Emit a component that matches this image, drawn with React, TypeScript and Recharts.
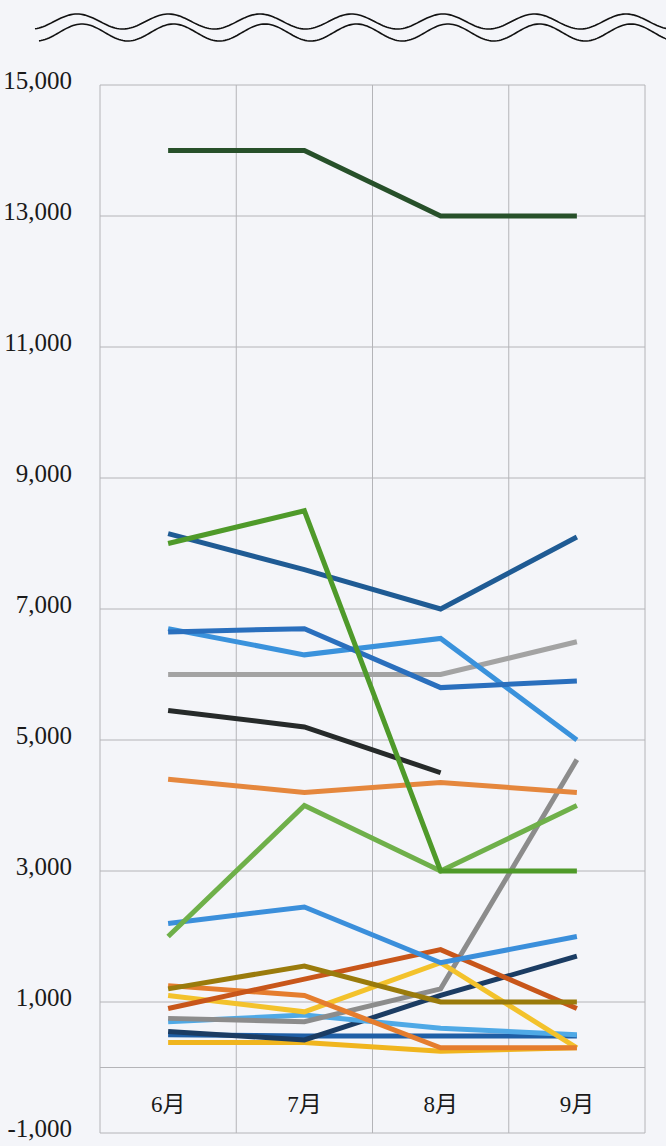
import React from 'react'
import { LineChart, Line, XAxis, YAxis, CartesianGrid, ReferenceLine } from 'recharts'

const months = ['6月', '7月', '8月', '9月']
const yTicks = [-1000, 1000, 3000, 5000, 7000, 9000, 11000, 13000, 15000]

const s01 = [14000, 14000, 13000, 13000]
const s02 = [8000, 8500, 3000, 3000]
const s03 = [8150, 7600, 7000, 8100]
const s04 = [6650, 6700, 5800, 5900]
const s05 = [6700, 6300, 6550, 5000]
const s06 = [6000, 6000, 6000, 6500]
const s07 = [5450, 5200, 4500, null]
const s08 = [4400, 4200, 4350, 4200]
const s09 = [2000, 4000, 3000, 4000]
const s10 = [2200, 2450, 1600, 2000]
const s11 = [1200, 1550, 1000, 1000]
const s12 = [900, 1350, 1800, 900]
const s13 = [1250, 1100, 300, 300]
const s14 = [1100, 850, 1600, 300]
const s15 = [750, 700, 1200, 4700]
const s16 = [700, 800, 600, 500]
const s17 = [550, 420, 1100, 1700]
const s18 = [500, 480, 480, 480]
const s19 = [380, 380, 250, 300]

const series = [
  { key: 's19', values: s19, color: '#f0b51e' },
  { key: 's18', values: s18, color: '#1f5fa6' },
  { key: 's17', values: s17, color: '#1b3c63' },
  { key: 's16', values: s16, color: '#4fa9e6' },
  { key: 's15', values: s15, color: '#8c8c8c' },
  { key: 's14', values: s14, color: '#f3c22c' },
  { key: 's13', values: s13, color: '#e57d2e' },
  { key: 's12', values: s12, color: '#c8561a' },
  { key: 's11', values: s11, color: '#9a7b0c' },
  { key: 's10', values: s10, color: '#3b8fdb' },
  { key: 's09', values: s09, color: '#6fb04a' },
  { key: 's08', values: s08, color: '#e5873d' },
  { key: 's07', values: s07, color: '#262a2a' },
  { key: 's06', values: s06, color: '#a3a3a3' },
  { key: 's05', values: s05, color: '#3a92dc' },
  { key: 's04', values: s04, color: '#2a6fbd' },
  { key: 's03', values: s03, color: '#1f5b94' },
  { key: 's02', values: s02, color: '#4f9a2a' },
  { key: 's01', values: s01, color: '#27502a' },
]

const data = months.map((m, i) => {
  const row: any = { month: m }
  series.forEach(s => { row[s.key] = s.values[i] })
  return row
})

const serif = "Liberation Serif, Times New Roman, Noto Sans CJK JP, serif"

const wavePath = (x0: number, c: number, a: number, peak: number) => {
  let d = ''
  for (let x = x0; x <= 670; x += 2) {
    const y = c - a * Math.cos((2 * Math.PI * (x - peak)) / 91.5)
    d += (d ? ' L' : 'M') + x + ' ' + y.toFixed(2)
  }
  return d
}

const XTick = (props: any) => {
  const { x, y, payload } = props
  return <text x={x} y={y - 21} textAnchor="middle" style={{ fontSize: 23, fontFamily: serif }} fill="#1a1a1a">{payload.value}</text>
}

const YTick = (props: any) => {
  const { x, y, payload } = props
  return <text x={x} y={y + 4} textAnchor="end" style={{ fontSize: 25, fontFamily: serif }} fill="#1a1a1a">
    {payload.value.toLocaleString('en-US')}
  </text>
}

const App = () => {
  return <div style={{ position: 'absolute', left: 0, top: 0, width: 666, height: 1146, background: '#f4f5f9', overflow: 'hidden' }}>
    <svg width={666} height={60} style={{ position: 'absolute', left: 0, top: 0 }}>
      <path d={wavePath(35, 21.5, 7.5, 77)} fill="none" stroke="#111" strokeWidth={1.6} />
      <path d={wavePath(39, 32.5, 8.5, 82)} fill="none" stroke="#111" strokeWidth={1.6} />
    </svg>
    <LineChart
      width={666}
      height={1146}
      data={data}
      margin={{ top: 85, right: 21, left: 0, bottom: 3 }}
      style={{ position: 'absolute', left: 0, top: 0 }}
    >
      <CartesianGrid
        stroke="#b4b4b8"
        strokeWidth={1}
        verticalCoordinatesGenerator={({ offset }: any) => [0, 1, 2, 3, 4].map(i => offset.left + (offset.width * i) / 4)}
      />
      <ReferenceLine y={0} stroke="#b4b4b8" strokeWidth={1} />
      <XAxis dataKey="month" scale="band" height={10} axisLine={false} tickLine={false} tickSize={0} tickMargin={0} tick={<XTick />} interval={0} />
      <YAxis
        width={100}
        domain={[-1000, 15000]}
        ticks={yTicks}
        interval={0}
        axisLine={false}
        tickLine={false}
        tickSize={0}
        tickMargin={28}
        tick={<YTick />}
      />
      {series.map(s => <Line
        key={s.key}
        type="linear"
        dataKey={s.key}
        stroke={s.color}
        strokeWidth={5}
        dot={false}
        activeDot={false}
        isAnimationActive={false}
      />)}
    </LineChart>
  </div>
}

export default App
